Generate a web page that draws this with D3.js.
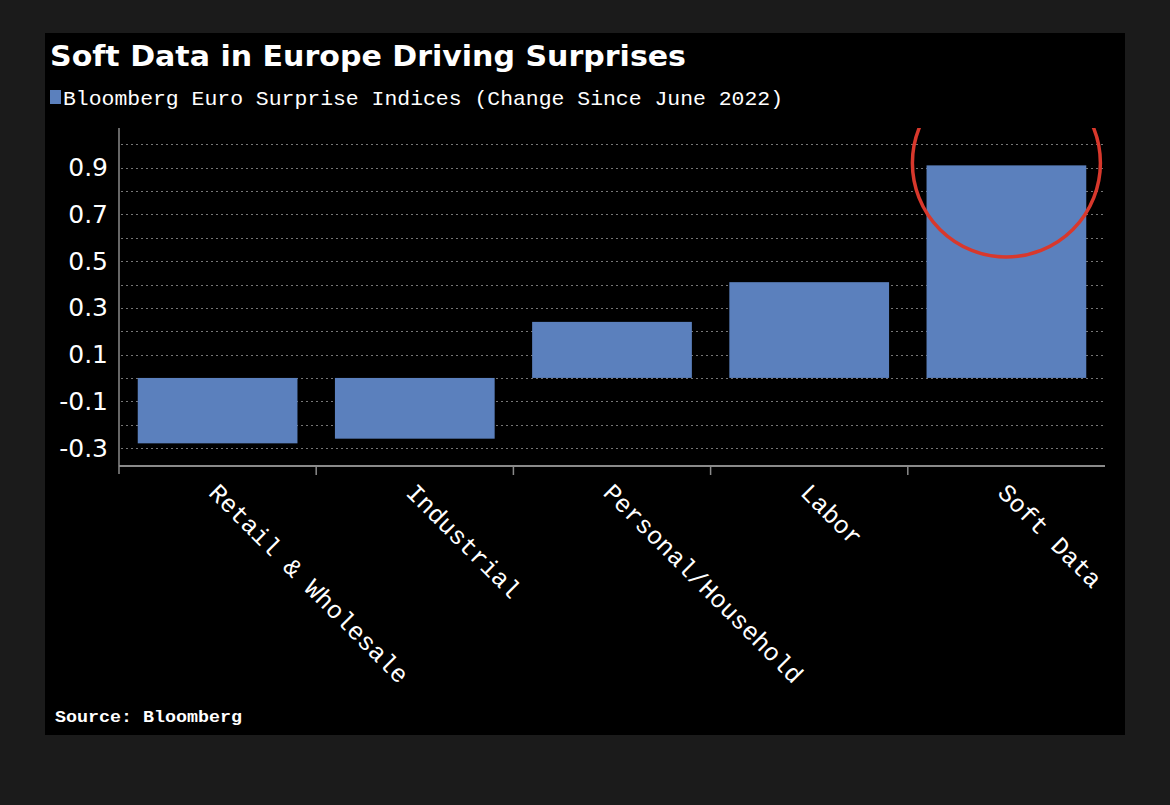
<!DOCTYPE html>
<html>
<head>
<meta charset="utf-8">
<script src="https://cdn.jsdelivr.net/npm/d3@7"></script>
<style>
  body { margin: 0; background: #1b1b1b; }
</style>
</head>
<body>
<div class="chart"></div>
<script>
var categories = ["Retail & Wholesale", "Industrial", "Personal/Household", "Labor", "Soft Data"];
var values = [-0.28, -0.26, 0.24, 0.41, 0.91];
var tickValues = [-0.3, -0.1, 0.1, 0.3, 0.5, 0.7, 0.9];
var gridValues = [-0.3, -0.2, -0.1, 0, 0.1, 0.2, 0.3, 0.4, 0.5, 0.6, 0.7, 0.8, 0.9, 1.0];

var W = 1170, H = 805;
var plot = {left: 119, right: 1105, top: 128, bottom: 466};

var svg = d3.select(".chart")
  .append("svg")
    .attr("width", W)
    .attr("height", H);

// black panel
svg.append("rect")
  .attr("x", 45).attr("y", 33)
  .attr("width", 1080).attr("height", 702)
  .attr("fill", "#000");

var x = d3.scaleBand()
  .domain(categories)
  .range([plot.left, plot.right])
  .paddingInner(0.19)
  .paddingOuter(0.095);

var y = d3.scaleLinear()
  .domain([-0.377, 1.07])
  .range([plot.bottom, plot.top]);

// grid
svg.append("g")
  .selectAll("line")
  .data(gridValues)
  .enter()
  .append("line")
    .attr("x1", plot.left + 2)
    .attr("x2", plot.right)
    .attr("y1", function(d) { return Math.round(y(d)) + 0.5; })
    .attr("y2", function(d) { return Math.round(y(d)) + 0.5; })
    .attr("stroke", "#767676")
    .attr("stroke-width", 1)
    .attr("stroke-dasharray", "2,3");

// bars
svg.append("g")
  .selectAll("rect")
  .data(values)
  .enter()
  .append("rect")
    .attr("x", function(d, i) { return x(categories[i]); })
    .attr("width", x.bandwidth())
    .attr("y", function(d) { return y(Math.max(0, d)); })
    .attr("height", function(d) { return Math.abs(y(d) - y(0)); })
    .attr("fill", "#5b80bd");

// highlight circle on soft data
var cx = x("Soft Data") + x.bandwidth() / 2;
svg.append("clipPath").attr("id", "clip")
  .append("rect")
    .attr("x", 45).attr("y", plot.top)
    .attr("width", 1080).attr("height", 600);
svg.append("circle")
  .attr("clip-path", "url(#clip)")
  .attr("cx", cx)
  .attr("cy", y(0.92))
  .attr("r", 94)
  .attr("fill", "none")
  .attr("stroke", "#d8382c")
  .attr("stroke-width", 3.5);

// y axis
var gY = svg.append("g")
  .attr("transform", "translate(" + plot.left + ",0)")
  .call(d3.axisLeft(y).tickValues(tickValues).tickSize(0).tickPadding(11)
    .tickFormat(function(d) { return d.toFixed(1); }));
gY.select(".domain").remove();
gY.selectAll("text")
  .attr("fill", "#fff")
  .style("font-family", '"DejaVu Sans", sans-serif')
  .style("font-size", "25px");
svg.append("line")
  .attr("x1", plot.left).attr("x2", plot.left)
  .attr("y1", plot.top).attr("y2", plot.bottom + 8)
  .attr("stroke", "#8a8a8a").attr("stroke-width", 1.5);

// x axis
var gX = svg.append("g")
  .attr("transform", "translate(0," + plot.bottom + ")")
  .call(d3.axisBottom(x).tickSize(0).tickFormat(""));
gX.select(".domain").remove();
svg.append("line")
  .attr("x1", plot.left).attr("x2", plot.right)
  .attr("y1", plot.bottom).attr("y2", plot.bottom)
  .attr("stroke", "#8a8a8a").attr("stroke-width", 2);
var step = x.step();
svg.append("g")
  .selectAll("line")
  .data(categories.slice(1))
  .enter()
  .append("line")
    .attr("x1", function(d) { return x(d) - (step - x.bandwidth()) / 2; })
    .attr("x2", function(d) { return x(d) - (step - x.bandwidth()) / 2; })
    .attr("y1", plot.bottom)
    .attr("y2", plot.bottom + 9)
    .attr("stroke", "#8a8a8a").attr("stroke-width", 1.5);

// rotated category labels
svg.append("g")
  .selectAll("text")
  .data(categories)
  .enter()
  .append("text")
    .attr("transform", function(d) {
      return "translate(" + (x(d) + x.bandwidth() / 2 - 10) + "," + (plot.bottom + 28) + ") rotate(45)";
    })
    .attr("fill", "#fff")
    .style("font-family", '"Liberation Mono", monospace')
    .style("font-size", "25px")
    .text(function(d) { return d; });

// title
svg.append("text")
  .attr("x", 50).attr("y", 66)
  .attr("fill", "#fff")
  .style("font-family", '"DejaVu Sans", sans-serif')
  .style("font-weight", "bold")
  .style("font-size", "28px")
  .attr("textLength", 636)
  .attr("lengthAdjust", "spacingAndGlyphs")
  .text("Soft Data in Europe Driving Surprises");

// legend
svg.append("rect")
  .attr("x", 50).attr("y", 90)
  .attr("width", 11).attr("height", 14)
  .attr("fill", "#5b80bd");
svg.append("text")
  .attr("x", 63).attr("y", 105)
  .attr("fill", "#fff")
  .style("font-family", '"Liberation Mono", monospace')
  .style("font-size", "21px")
  .attr("textLength", 720)
  .attr("lengthAdjust", "spacingAndGlyphs")
  .text("Bloomberg Euro Surprise Indices (Change Since June 2022)");

// source
svg.append("text")
  .attr("x", 55).attr("y", 722)
  .attr("fill", "#fff")
  .style("font-family", '"Liberation Mono", monospace')
  .style("font-weight", "bold")
  .style("font-size", "17px")
  .attr("textLength", 187)
  .attr("lengthAdjust", "spacingAndGlyphs")
  .text("Source: Bloomberg");
</script>
</body>
</html>
